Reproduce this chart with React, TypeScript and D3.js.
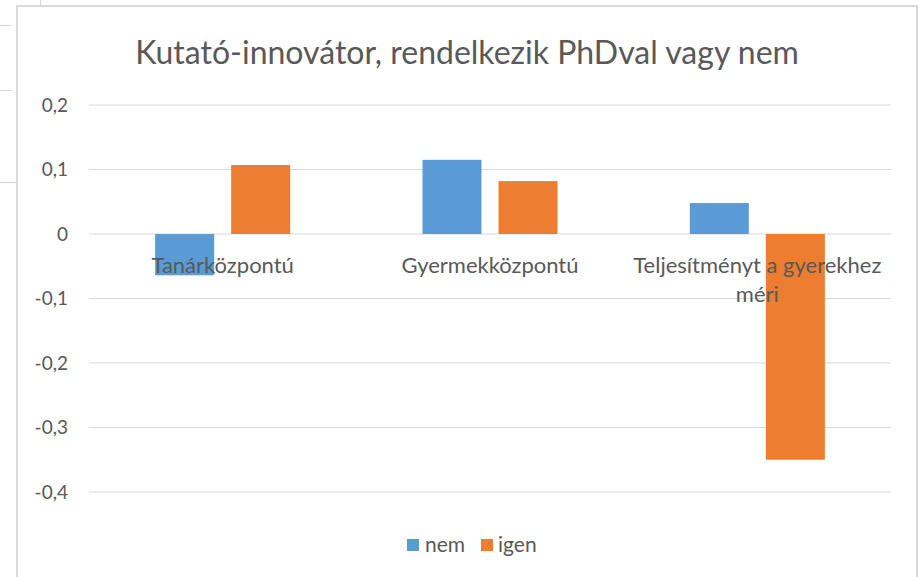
import React from 'react';
import * as d3 from 'd3';

const categories = ['Tanárközpontú', 'Gyermekközpontú', 'Teljesítményt a gyerekhez|méri'];
const seriesNames = ['nem', 'igen'];
const nemValues = [-0.064, 0.115, 0.048];
const igenValues = [0.107, 0.082, -0.35];
const yTicks = [0.2, 0.1, 0, -0.1, -0.2, -0.3, -0.4];

const colors: Record<string, string> = { nem: '#5B9BD5', igen: '#ED7D31' };
const font = 'Lato, "Open Sans", sans-serif';
const textColor = '#595959';

const locale = d3.formatLocale({ decimal: ',', thousands: ' ', grouping: [3], currency: ['', ''], minus: '-' });
const fmt = (v: number) => (v === 0 ? '0' : locale.format('.1f')(v));

const App = () => {
  const width = 919;
  const height = 577;
  const plotLeft = 89;
  const plotRight = 891;

  const x = d3.scaleBand<string>().domain(categories).range([plotLeft, plotRight]).padding(0);
  const inner = d3
    .scaleBand<string>()
    .domain(seriesNames)
    .range([0, x.bandwidth()])
    .paddingInner(0.224)
    .paddingOuter(0.87);
  const y = d3.scaleLinear().domain([-0.4, 0.2]).range([492, 105]);

  const rows = categories.map((c, i) => ({ cat: c, nem: nemValues[i], igen: igenValues[i] }));

  return (
    <svg width={width} height={height} style={{ position: 'absolute', left: 0, top: 0, background: '#fff' }}>
      {/* spreadsheet bits behind the chart */}
      <g stroke="#d4d4d4" strokeWidth={1}>
        <line x1={0} x2={11} y1={25.5} y2={25.5} />
        <line x1={0} x2={11} y1={90.5} y2={90.5} />
        <line x1={40.5} x2={40.5} y1={0} y2={6} />
        <line x1={0} x2={17} y1={182.5} y2={182.5} />
      </g>
      {/* chart frame */}
      <rect x={17} y={6} width={900} height={600} fill="#fff" stroke="#d9d9d9" strokeWidth={2} />

      <text
        x={(17 + 917) / 2}
        y={63.5}
        textAnchor="middle"
        fontFamily={font}
        fontSize={32}
        fill={textColor}
      >
        Kutató-innovátor, rendelkezik PhDval vagy nem
      </text>

      {/* gridlines + y axis labels */}
      {yTicks.map((t) => (
        <g key={t}>
          <line x1={plotLeft} x2={plotRight} y1={y(t)} y2={y(t)} stroke="#d9d9d9" strokeWidth={1} />
          <text x={68} y={y(t)} dy="0.35em" textAnchor="end" fontFamily={font} fontSize={19} fill={textColor}>
            {fmt(t)}
          </text>
        </g>
      ))}

      {/* bars */}
      {rows.map((r) => (
        <g key={r.cat} transform={`translate(${x(r.cat)},0)`}>
          {seriesNames.map((s) => {
            const v = (r as any)[s] as number;
            return (
              <rect
                key={s}
                x={inner(s)}
                width={inner.bandwidth()}
                y={Math.min(y(v), y(0))}
                height={Math.abs(y(v) - y(0))}
                fill={colors[s]}
              />
            );
          })}
        </g>
      ))}

      {/* category labels */}
      {categories.map((c) => (
        <text
          key={c}
          x={(x(c) as number) + x.bandwidth() / 2}
          y={273}
          textAnchor="middle"
          fontFamily={font}
          fontSize={22}
          fill={textColor}
        >
          {c.split('|').map((line, i) => (
            <tspan key={i} x={(x(c) as number) + x.bandwidth() / 2} dy={i === 0 ? 0 : 29}>
              {line}
            </tspan>
          ))}
        </text>
      ))}

      {/* legend */}
      <g fontFamily={font} fontSize={21} fill={textColor}>
        <rect x={407} y={539} width={12} height={12} fill={colors.nem} />
        <text x={425} y={552}>nem</text>
        <rect x={481} y={539} width={12} height={12} fill={colors.igen} />
        <text x={498} y={552}>igen</text>
      </g>
    </svg>
  );
};

export default App;
